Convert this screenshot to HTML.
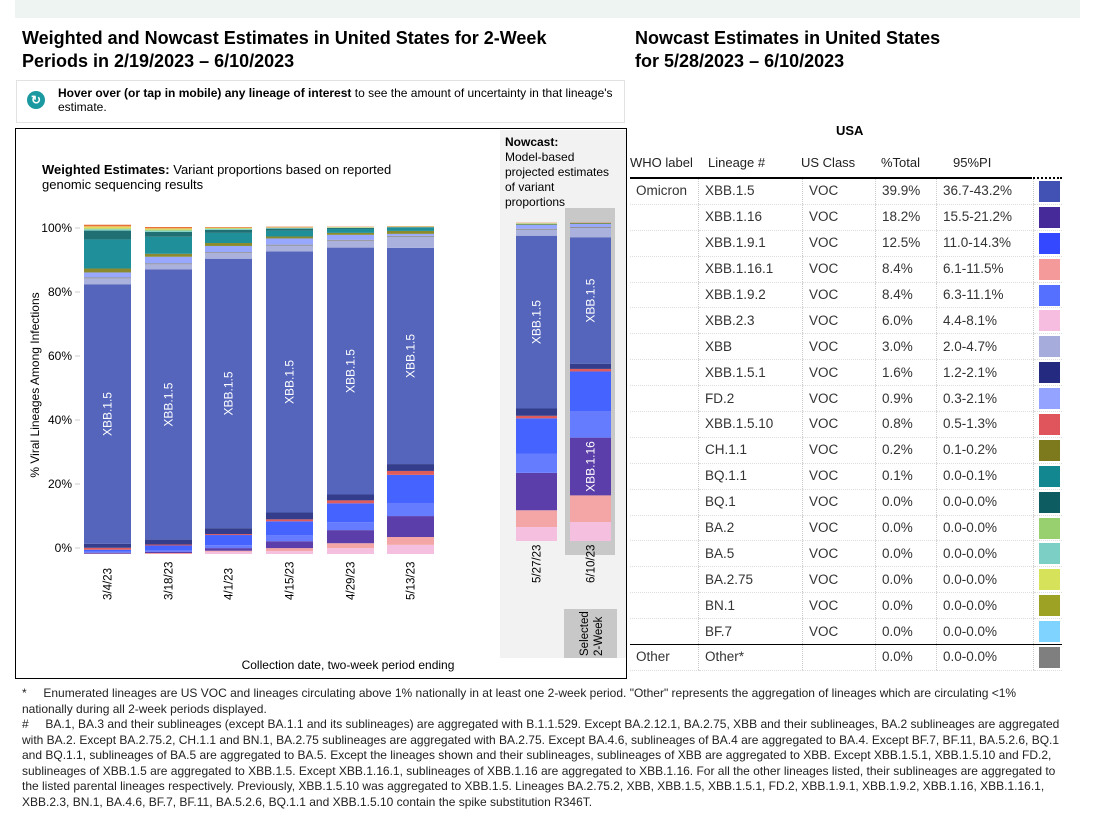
<!DOCTYPE html>
<html><head><meta charset="utf-8">
<style>
body{margin:0;width:1111px;height:822px;background:#fff;font-family:"Liberation Sans",Arial,sans-serif;position:relative;overflow:hidden;color:#000}
.abs{position:absolute}
h1{position:absolute;margin:0;font-size:18px;font-weight:bold;line-height:23px}
table{border-collapse:collapse;font-size:13.5px;color:#333}
td{height:24.9px;padding:0 0 0 6px;border-left:1px dotted #ccc;border-bottom:1px dotted #ddd;white-space:nowrap;line-height:16px}
td:first-child{border-left:none}
.fn{font-size:12px;line-height:15.5px;color:#222}
.hd span{white-space:nowrap}
</style></head><body>
<div class="abs" style="left:15px;top:0;width:1065px;height:18px;background:#eef4f1"></div>
<h1 style="left:22px;top:27px;width:560px">Weighted and Nowcast Estimates in United States for 2-Week Periods in 2/19/2023 – 6/10/2023</h1>
<h1 style="left:635px;top:27px;width:330px">Nowcast Estimates in United States for 5/28/2023 – 6/10/2023</h1>
<div class="abs" style="left:16px;top:80px;width:607px;height:41px;border:1px solid #e2e2e2;font-size:12px;line-height:14px">
 <div class="abs" style="left:10px;top:10px;width:18px;height:18px;border-radius:50%;background:#1a9aa0;color:#fff;font-size:12px;text-align:center;line-height:18px;font-weight:bold">↻</div>
 <div class="abs" style="left:41px;top:5px;width:560px"><b>Hover over (or tap in mobile) any lineage of interest</b> to see the amount of uncertainty in that lineage's estimate.</div>
</div>
<svg class="abs" style="left:0;top:0" width="1111" height="822" id="chart">
 <defs><clipPath id="selclip"><rect x="564" y="609" width="53" height="49"/></clipPath></defs>
 <rect x="15.5" y="128.5" width="611" height="550" fill="none" stroke="#000"/>
 <rect x="500" y="130" width="126" height="528" fill="#f2f2f2"/>
 <rect x="565" y="208" width="50" height="347" fill="#c8c8c8"/>
 <rect x="564" y="609" width="53" height="49" fill="#c8c8c8"/>
 <text x="42" y="174" font-size="13"><tspan font-weight="bold">Weighted Estimates:</tspan> Variant proportions based on reported</text>
 <text x="42" y="189" font-size="13">genomic sequencing results</text>
 <g font-size="12">
  <text x="505" y="146" font-weight="bold">Nowcast:</text>
  <text x="505" y="161">Model-based</text><text x="505" y="176">projected estimates</text>
  <text x="505" y="191">of variant</text><text x="505" y="206">proportions</text>
 </g>
 <text transform="translate(39,385) rotate(-90)" text-anchor="middle" font-size="12">% Viral Lineages Among Infections</text>
 <text x="348" y="669" text-anchor="middle" font-size="12">Collection date, two-week period ending</text>
 <g clip-path="url(#selclip)">
  <text transform="translate(588,656) rotate(-90)" font-size="11.5">Selected</text>
  <text transform="translate(602,656) rotate(-90)" font-size="11.5">2-Week</text>
 </g>
 <g id="axis"></g><g id="bars"></g>
</svg>
<div class="abs" style="left:836px;top:123px;font-size:13px;font-weight:bold">USA</div>
<div class="abs hd" style="left:630px;top:155px;font-size:13px;color:#222">
 <span class="abs" style="left:0">WHO label</span><span class="abs" style="left:78px">Lineage&nbsp;#</span><span class="abs" style="left:171px">US&nbsp;Class</span><span class="abs" style="left:251px">%Total</span><span class="abs" style="left:323px">95%PI</span>
</div>
<div class="abs" style="left:630px;top:177px;width:400px;border-top:2px solid #000"></div>
<div class="abs" style="left:1030px;top:177px;width:32px;border-top:2px dotted #000"></div>
<table class="abs" id="tbl" style="left:630px;top:179px;width:432px"></table>
<div class="abs fn" style="left:22px;top:686px;width:1040px">
<div>*&nbsp;&nbsp;&nbsp;&nbsp;&nbsp;Enumerated lineages are US VOC and lineages circulating above 1% nationally in at least one 2-week period. "Other" represents the aggregation of lineages which are circulating &lt;1% nationally during all 2-week periods displayed.</div>
<div>#&nbsp;&nbsp;&nbsp;&nbsp;&nbsp;BA.1, BA.3 and their sublineages (except BA.1.1 and its sublineages) are aggregated with B.1.1.529. Except BA.2.12.1, BA.2.75, XBB and their sublineages, BA.2 sublineages are aggregated with BA.2. Except BA.2.75.2, CH.1.1 and BN.1, BA.2.75 sublineages are aggregated with BA.2.75. Except BA.4.6, sublineages of BA.4 are aggregated to BA.4. Except BF.7, BF.11, BA.5.2.6, BQ.1 and BQ.1.1, sublineages of BA.5 are aggregated to BA.5. Except the lineages shown and their sublineages, sublineages of XBB are aggregated to XBB. Except XBB.1.5.1, XBB.1.5.10 and FD.2, sublineages of XBB.1.5 are aggregated to XBB.1.5. Except XBB.1.16.1, sublineages of XBB.1.16 are aggregated to XBB.1.16. For all the other lineages listed, their sublineages are aggregated to the listed parental lineages respectively. Previously, XBB.1.5.10 was aggregated to XBB.1.5. Lineages BA.2.75.2, XBB, XBB.1.5, XBB.1.5.1, FD.2, XBB.1.9.1, XBB.1.9.2, XBB.1.16, XBB.1.16.1, XBB.2.3, BN.1, BA.4.6, BF.7, BF.11, BA.5.2.6, BQ.1.1 and XBB.1.5.10 contain the spike substitution R346T.</div>
</div>
<script>
const periods=["3/4/23","3/18/23","4/1/23","4/15/23","4/29/23","5/13/23","5/27/23","6/10/23"];
const lineages=["XBB.2.3","XBB.1.16.1","XBB.1.16","XBB.1.9.2","XBB.1.9.1","XBB.1.5.10","XBB.1.5.1","XBB.1.5","XBB","Other","FD.2","CH.1.1","BQ.1.1","BQ.1","BA.5","BA.2","BA.2.75","BN.1"];
const colors=["#f5c0e0","#f4a5a5","#5b3ea9","#667cff","#4463ff","#e05c5c","#333d8c","#5465bb","#aab1dd","#888888","#98a8ff","#8b8a2e","#1f9099","#207073","#7fd0c8","#9ccf6a","#e8d860","#e8703a"];
const v_XBB23=[0,0,0.7,0.9,1.8,2.8,4.4,6.0];
const v_XBB1161=[0.1,0.3,0.3,0.9,1.5,2.4,5.3,8.4];
const v_XBB116=[0.3,0.4,0.8,2.1,4.0,6.4,11.8,18.2];
const v_XBB192=[0.3,0.4,0.9,1.8,2.4,4.0,6.1,8.4];
const v_XBB191=[0.6,1.5,3.1,4.3,5.8,8.6,11.1,12.5];
const v_XBB1510=[0.6,0.3,0.3,0.6,0.9,1.2,0.8,0.8];
const v_XBB151=[1.2,1.5,1.8,2.1,1.8,2.1,2.3,1.6];
const v_XBB15=[79.4,82.6,82.4,79.8,75.5,66.1,54.5,39.9];
const v_XBB=[1.8,1.6,1.7,1.8,2.1,3.4,1.9,3.0];
const v_Other=[0.3,0.3,0.3,0.3,0.3,0.3,0.3,0.3];
const v_FD2=[1.5,2.0,1.9,1.9,1.5,0.6,1.2,0.9];
const v_CH11=[1.2,0.9,0.9,0.6,0.6,0.9,0.2,0.2];
const v_BQ11=[8.9,5.2,3.1,1.8,1.2,0.9,0.1,0.1];
const v_BQ1=[2.7,1.5,0.9,0.6,0.3,0.2,0,0];
const v_BA5=[0.4,0.4,0.3,0.2,0.1,0.1,0.1,0];
const v_BA2=[0.3,0.3,0.2,0.1,0.1,0.1,0.1,0];
const v_BA275=[0.6,0.4,0.2,0.1,0.1,0.1,0.1,0];
const v_BN1=[0.5,0.4,0.2,0.2,0.1,0.1,0.1,0.1];
const series=[v_XBB23,v_XBB1161,v_XBB116,v_XBB192,v_XBB191,v_XBB1510,v_XBB151,v_XBB15,v_XBB,v_Other,v_FD2,v_CH11,v_BQ11,v_BQ1,v_BA5,v_BA2,v_BA275,v_BN1];
const yTicks=[0,20,40,60,80,100];
const tblLineage=["XBB.1.5","XBB.1.16","XBB.1.9.1","XBB.1.16.1","XBB.1.9.2","XBB.2.3","XBB","XBB.1.5.1","FD.2","XBB.1.5.10","CH.1.1","BQ.1.1","BQ.1","BA.2","BA.5","BA.2.75","BN.1","BF.7"];
const tblTotal=["39.9%","18.2%","12.5%","8.4%","8.4%","6.0%","3.0%","1.6%","0.9%","0.8%","0.2%","0.1%","0.0%","0.0%","0.0%","0.0%","0.0%","0.0%"];
const tblPI=["36.7-43.2%","15.5-21.2%","11.0-14.3%","6.1-11.5%","6.3-11.1%","4.4-8.1%","2.0-4.7%","1.2-2.1%","0.3-2.1%","0.5-1.3%","0.1-0.2%","0.0-0.1%","0.0-0.0%","0.0-0.0%","0.0-0.0%","0.0-0.0%","0.0-0.0%","0.0-0.0%"];
const tblColor=["#4252b4","#472a9a","#3348ff","#f49a9a","#5570ff","#f6bde0","#a6addc","#232a80","#93a3ff","#e0545c","#7d7a1e","#13878f","#0d5c62","#98d070","#7ccfc4","#d6e25a","#9da224","#7fd4ff"];

const NS="http://www.w3.org/2000/svg";
const ax=document.getElementById('axis'),bg=document.getElementById('bars');
const yW=v=>554-v*3.27, yN=v=>541-v*3.17;
const yL=v=>548-v*3.2;
const xPos=i=>[84,145,205,266,327,387,516,570][i];
const bw=i=>i<6?47:41;
function mk(t,a,p){const e=document.createElementNS(NS,t);for(const k in a)e.setAttribute(k,a[k]);p.appendChild(e);return e;}
yTicks.forEach(t=>{
 const tx=mk('text',{x:72,y:yL(t)+4,'text-anchor':'end','font-size':12},ax);
 
 
 tx.textContent=t+'%';
 mk('line',{x1:75,x2:80,y1:yL(t),y2:yL(t),stroke:'#ccc'},ax);
});
periods.forEach((p,i)=>{
 const Y=i<6?yW:yN;let cum=0;
 series.forEach((s,k)=>{
  const v=s[i];if(v<=0){return;}
  const r=mk('rect',{x:xPos(i),y:Y(cum+v),width:bw(i),height:Y(cum)-Y(cum+v),fill:colors[k]},bg);
  
  
  cum+=v;
 });
 const cx=xPos(i)+bw(i)/2;
 const lt=mk('text',{transform:`translate(${cx+4},${i<6?600:583}) rotate(-90)`,'text-anchor':'start','font-size':11.5},bg);
 
 
 lt.textContent=p;
 let b=v_XBB23[i]+v_XBB1161[i]+v_XBB116[i]+v_XBB192[i]+v_XBB191[i]+v_XBB1510[i]+v_XBB151[i];
 const mid=(Y(b)+Y(b+v_XBB15[i]))/2;
 const bl=mk('text',{transform:`translate(${cx+4},${mid}) rotate(-90)`,'text-anchor':'middle','font-size':12,fill:'#fff'},bg);
 
 
 bl.textContent='XBB.1.5';
 if(i==7){const b2=v_XBB23[i]+v_XBB1161[i];const m2=(Y(b2)+Y(b2+v_XBB116[i]))/2;
  const l2=mk('text',{transform:`translate(${cx+4},${m2}) rotate(-90)`,'text-anchor':'middle','font-size':12,fill:'#fff'},bg);
  
  
  l2.textContent='XBB.1.16';}
});
const tb=document.getElementById('tbl');
tblLineage.forEach((l,i)=>{
 const tr=document.createElement('tr');
 
 
 tr.innerHTML=`<td style="width:62px">${i==0?'Omicron':''}</td><td style="width:97px">${l}</td><td style="width:66px">VOC</td><td style="width:54px">${tblTotal[i]}</td><td style="width:90px">${tblPI[i]}</td><td style="padding:0 0 0 5px"><div style="width:21px;height:21px;background:${tblColor[i]}"></div></td>`;
 tb.appendChild(tr);
});
const tr=document.createElement('tr');


tr.innerHTML=`<td style="border-top:1px solid #000">Other</td><td style="border-top:1px solid #000">Other*</td><td style="border-top:1px solid #000"></td><td style="border-top:1px solid #000">0.0%</td><td style="border-top:1px solid #000">0.0-0.0%</td><td style="border-top:1px solid #000;padding:0 0 0 5px"><div style="width:21px;height:21px;background:#7f7f7f"></div></td>`;
tb.appendChild(tr);
</script>
</body></html>
